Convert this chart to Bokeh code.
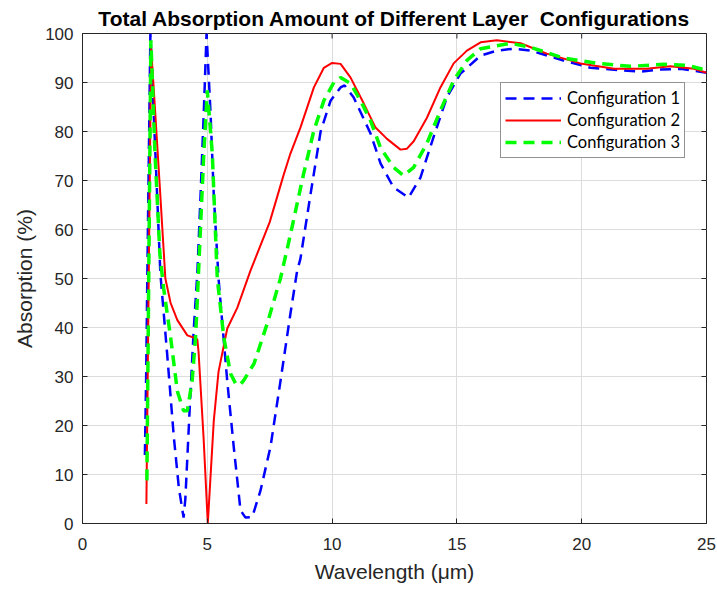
from bokeh.plotting import figure
from bokeh.models import Range1d, FixedTicker, Legend, LegendItem
from bokeh.embed import file_html
from bokeh.resources import INLINE

title_text = "Total Absorption Amount of Different Layer\u00a0 Configurations"
x_label = "Wavelength (\u03bcm)"
y_label = "Absorption (%)"
x_ticks = [0, 5, 10, 15, 20, 25]
y_ticks = [0, 10, 20, 30, 40, 50, 60, 70, 80, 90, 100]
series_names = ["Configuration 1", "Configuration 2", "Configuration 3"]

# Configuration 1 (blue dashed)
x1 = [2.5, 2.55, 2.62, 2.72, 2.9, 3.12, 3.39, 3.66, 3.86, 4.05, 4.12, 4.3, 4.45, 4.6,
      4.73, 4.86, 4.97, 5.13, 5.26, 5.45, 5.8, 6.06, 6.33, 6.53, 6.8, 7.13, 7.53, 7.93,
      8.33, 8.6, 8.73, 9.13, 9.54, 9.94, 10.34, 10.5, 10.86, 11.54, 11.94, 12.46, 13.06,
      13.54, 14.06, 14.6, 15.14, 15.95, 16.6, 17.27, 17.95, 19.27, 20.35, 21.3, 22.36,
      23.0, 23.96, 25.0]
y1 = [14, 30, 60, 100, 78, 51, 34.7, 17.6, 7.3, 1.2, 5, 24, 39, 51,
      67, 84, 100, 83.8, 67, 50, 29, 15.6, 2.7, 1.2, 1.3, 6.7, 15.6, 29,
      42.8, 51.6, 54, 67, 80, 86.3, 89, 89.4, 87, 79.6, 73.5, 68.6, 66.5,
      70.6, 78.8, 87, 91.8, 95.5, 96.5, 96.9, 96.5, 94.5, 93, 92.6, 92.2,
      92.6, 92.8, 92]

# Configuration 2 (red solid)
x2 = [2.56, 2.75, 2.9, 3.1, 3.32, 3.53, 3.8, 4.2, 4.53, 4.6, 4.65, 4.85, 5.02, 5.26,
      5.45, 5.8, 6.2, 6.73, 7.5, 8.05, 8.33, 8.73, 9.27, 9.67, 10.0, 10.34, 10.74,
      11.27, 11.74, 12.2, 12.74, 13.0, 13.27, 13.8, 14.34, 14.87, 15.4, 15.95, 16.6,
      17.55, 18.6, 19.95, 21.3, 22.6, 23.55, 24.5, 25.0]
y2 = [4, 97, 85, 68.5, 50, 45, 41.5, 38.4, 37.8, 37.6, 35, 17.6, 0, 21,
      31, 39.8, 44, 51.6, 61.5, 71, 75.5, 80.8, 89, 93, 94, 93.8, 91,
      85.7, 80.8, 78.5, 76.3, 76.5, 78, 82.8, 89, 93.9, 96.5, 98.2, 98.6,
      98, 95.9, 93.9, 92.8, 92.8, 93.3, 92.8, 92]

# Configuration 3 (green dashed)
x3 = [2.58, 2.74, 2.9, 3.1, 3.25, 3.53, 3.8, 4.05, 4.2, 4.39, 4.53, 4.62, 4.86, 5.0,
      5.2, 5.4, 5.66, 5.93, 6.13, 6.3, 6.46, 6.87, 7.4, 7.93, 8.2, 8.46, 8.86, 9.27,
      9.67, 10.07, 10.34, 10.74, 11.14, 11.54, 11.94, 12.46, 12.86, 13.27, 13.8, 14.34,
      14.87, 15.4, 15.95, 17.15, 17.95, 19.27, 20.63, 21.95, 23.28, 24.24, 25.0]
y3 = [8.8, 98.6, 76, 55, 48, 38, 27, 23, 23, 29, 38, 48, 75.5, 88.4,
      75.5, 50, 38, 30.6, 28.6, 28.2, 29.2, 32.6, 40.8, 50, 56, 62, 71.4, 80.2,
      86.3, 90, 91, 89.8, 86.3, 82.2, 76.7, 72.7, 71, 72.7, 77.6, 84.3,
      90.4, 94.5, 96.9, 98, 97.2, 95, 93.9, 93.3, 93.7, 93.5, 92.5]

AX = "#262626"
AXFONT = "Liberation Sans"
W, H = 717, 592
BL, BR, BT, BB = 82, 11, 33, 69
TICK = 5

p = figure(width=W, height=H, output_backend="svg", toolbar_location=None,
           x_range=Range1d(0, 25), y_range=Range1d(0, 100),
           min_border_left=BL, min_border_right=BR, min_border_top=BT, min_border_bottom=BB,
           background_fill_color="white", border_fill_color="white")

p.title.text = title_text
p.title.text_font = AXFONT
p.title.text_font_size = "21px"
p.title.text_font_style = "bold"
p.title.text_color = "black"
p.title.align = "center"
p.title.standoff = 8
p.title.offset = 8

p.outline_line_color = AX
p.outline_line_width = 1

for ax in (p.xaxis[0], p.yaxis[0]):
    ax.axis_line_color = AX
    ax.major_tick_line_color = AX
    ax.major_tick_in = TICK
    ax.major_tick_out = 0
    ax.minor_tick_line_color = None
    ax.major_label_text_font = AXFONT
    ax.major_label_text_font_size = "17px"
    ax.major_label_text_color = AX
    ax.axis_label_text_font = AXFONT
    ax.axis_label_text_font_size = "21px"
    ax.axis_label_text_font_style = "normal"
    ax.axis_label_text_color = AX

p.xaxis[0].ticker = FixedTicker(ticks=x_ticks)
p.yaxis[0].ticker = FixedTicker(ticks=y_ticks)
p.xaxis[0].axis_label = x_label
p.yaxis[0].axis_label = y_label
p.xaxis[0].major_label_standoff = 14
p.xaxis[0].axis_label_standoff = 7
p.yaxis[0].major_label_standoff = 9
p.yaxis[0].axis_label_standoff = 6

p.xgrid.ticker = FixedTicker(ticks=x_ticks)
p.ygrid.ticker = FixedTicker(ticks=y_ticks)
p.grid.grid_line_color = "#dcdcdc"
p.grid.grid_line_width = 1

# inward tick marks on the top and right edges of the box
x0, x_end = p.x_range.start, p.x_range.end
y0, y_end = p.y_range.start, p.y_range.end
fw, fh = W - BL - BR, H - BT - BB
dy = TICK * (y_end - y0) / fh
dx = TICK * (x_end - x0) / fw
p.segment(x0=x_ticks, y0=[y_end] * len(x_ticks), x1=x_ticks, y1=[y_end - dy] * len(x_ticks),
          line_color=AX, line_width=1)
p.segment(x0=[x_end] * len(y_ticks), y0=y_ticks, x1=[x_end - dx] * len(y_ticks), y1=y_ticks,
          line_color=AX, line_width=1)

r1 = p.line(x1, y1, line_color="#0000ff", line_width=2.5, line_dash="11 7")
r2 = p.line(x2, y2, line_color="#ff0000", line_width=2)
r3 = p.line(x3, y3, line_color="#00ff00", line_width=3.5, line_dash="11 7")

legend = Legend(items=[LegendItem(label=series_names[0], renderers=[r1]),
                       LegendItem(label=series_names[1], renderers=[r2]),
                       LegendItem(label=series_names[2], renderers=[r3])],
                location=(418, 365))
legend.label_text_font = "Lato"
legend.label_text_font_size = "16.5px"
legend.label_text_color = "black"
legend.glyph_width = 56
legend.glyph_height = 22
legend.label_height = 22
legend.spacing = 0
legend.padding = 4
legend.margin = 0
legend.label_standoff = 6
legend.border_line_color = AX
legend.border_line_width = 1
legend.background_fill_color = "white"
legend.background_fill_alpha = 1
p.add_layout(legend, "center")

open("out.html", "w").write(file_html(p, INLINE))
